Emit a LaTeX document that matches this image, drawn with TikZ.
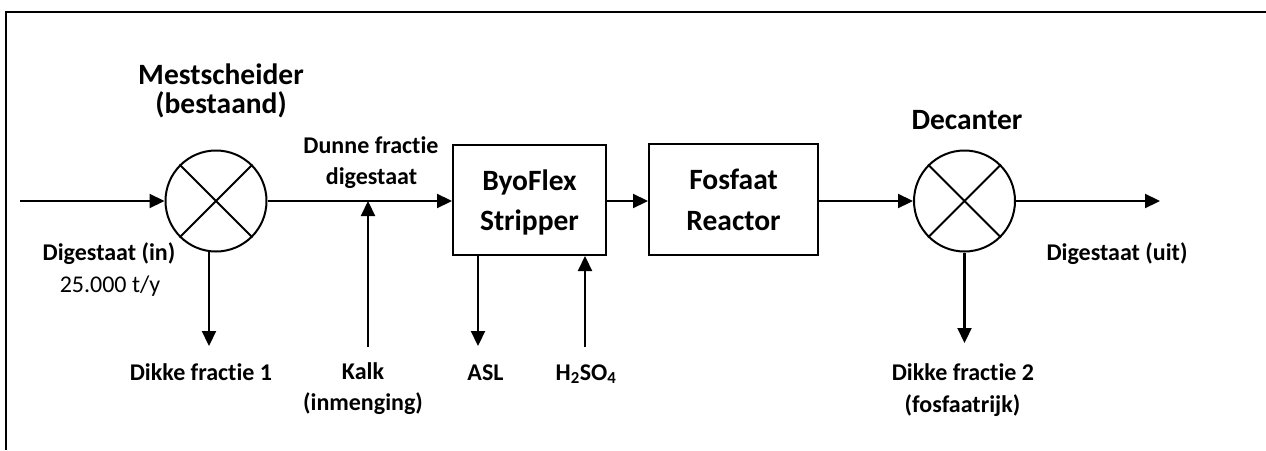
\documentclass[tikz,border=0pt]{standalone}
\usepackage{fontspec}
\setmainfont{Carlito}[RawFeature=-liga]
\usetikzlibrary{arrows.meta,calc}
\begin{document}
\begin{tikzpicture}[x=1pt,y=-1pt,
  flow/.style={line width=2.2pt,-{Triangle[length=15pt,width=14pt]}},
  sepcircle/.style={circle,draw,line width=2pt,minimum size=101pt,inner sep=0pt},
  procbox/.style={draw,line width=2pt,rectangle,inner sep=0pt},
  lbl/.style={font=\bfseries\fontsize{24}{29}\selectfont,anchor=base,inner sep=0pt},
  lblr/.style={font=\fontsize{24}{29}\selectfont,anchor=base,inner sep=0pt},
  ttl/.style={font=\bfseries\fontsize{29.5}{35}\selectfont,anchor=base,inner sep=0pt},
]
\useasboundingbox (0,0) rectangle (1266,450);
% frame (partly cut off)
\draw[line width=2.5pt] (1266,12) -- (6,12) -- (6,450);

% units
\node[sepcircle] (c1) at (216,201) {};
\draw[line width=2pt] (c1.45) -- (c1.225) (c1.135) -- (c1.315);
\node[procbox,minimum width=153pt,minimum height=110pt] (strip) at (529.5,200) {};
\node[procbox,minimum width=169pt,minimum height=111pt] (fos) at (733.5,199.5) {};
\node[sepcircle] (c2) at (964.5,201) {};
\draw[line width=2pt] (c2.45) -- (c2.225) (c2.135) -- (c2.315);

% box texts
\node[ttl] (stripa) at (529.5,190) {ByoFlex};
\node[ttl] (stripb) at (529.5,230) {Stripper};
\node[ttl] (fosa) at (733.5,189) {Fosfaat};
\node[ttl] (fosb) at (733.5,230) {Reactor};

% titles
\node[ttl] (t1a) at (221,84) {Mestscheider};
\node[ttl] (t1b) at (221,113) {(bestaand)};
\node[ttl] (t2) at (967,129) {Decanter};

% labels
\node[lbl] (dunA) at (371,153) {Dunne fractie};
\node[lbl] (dunB) at (371.5,184) {digestaat};
\node[lbl] (inA) at (109,260) {Digestaat (in)};
\node[lblr] (inB) at (110,292) {25.000 t/y};
\node[lbl] (dik1) at (201,380) {Dikke fractie 1};
\node[lbl] (kalkA) at (363,379) {Kalk};
\node[lbl] (kalkB) at (363,410) {(inmenging)};
\node[lbl] (asl) at (485.5,380) {ASL};
\node[lbl] (hzso) at (586,380) {H\textsubscript{2}SO\textsubscript{4}};
\node[lbl] (uit) at (1117,260) {Digestaat (uit)};
\node[lbl] (dik2a) at (963,380) {Dikke fractie 2};
\node[lbl] (dik2b) at (962.5,412) {(fosfaatrijk)};

% free ends
\coordinate (in0) at (20,201);
\coordinate (out0) at (1160,201);
\coordinate (kalktop) at (368,201);
\coordinate (kalkbot) at (368,347);
\coordinate (d1end) at (209,346);
\coordinate (aslend) at (478,346);
\coordinate (hbot) at (585,347);
\coordinate (d2end) at (964.5,343);

% connectors
\draw[flow] (in0) -- (c1.west);
\draw[flow] (c1.east) -- (c1.east -| strip.west);
\draw[flow] (strip.east |- c1.east) -- (fos.west |- c1.east);
\draw[flow] (c2.west -| fos.east) -- (c2.west);
\draw[flow] (c2.east) -- (out0);
\draw[flow] (kalkbot) -- (kalktop);
\draw[flow] ($(c1.south)+(-7,-0.5)$) -- (d1end);
\draw[flow] (strip.south -| aslend) -- (aslend);
\draw[flow] (hbot) -- (hbot |- strip.south);
\draw[flow] (c2.south) -- (d2end);
\end{tikzpicture}
\end{document}
